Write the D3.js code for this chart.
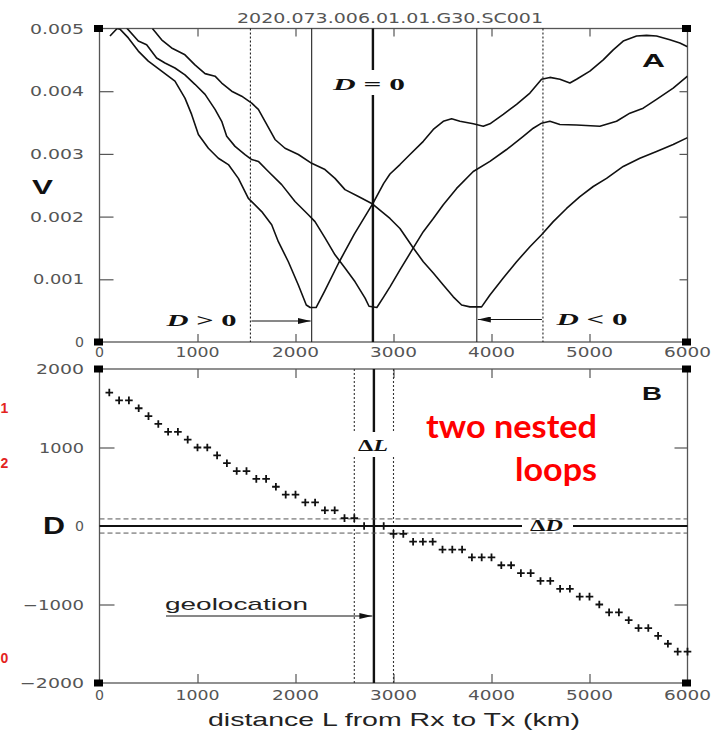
<!DOCTYPE html>
<html><head><meta charset="utf-8">
<script src="https://cdn.jsdelivr.net/npm/d3@7"></script>
<style>body{margin:0;background:#fff}</style>
</head><body><svg id="c" width="711" height="732"></svg>
<script>
const title = "2020.073.006.01.01.G30.SC001";
const xTicks = [0,1000,2000,3000,4000,5000,6000];
const vTicks = [0,0.001,0.002,0.003,0.004,0.005];
const vTickLabels = ["0","0.001","0.002","0.003","0.004","0.005"];
const dTicks = [-2000,-1000,0,1000,2000];
const dTickLabels = ["\u22122000","\u22121000","0","1000","2000"];

// Panel A: three received-signal curves [L km, V]
const curve1 = [[107,0.00488],[180,0.00500],[209,0.00499],[294,0.00485],[396,0.00464],[498,0.00448],[634,0.00432],[770,0.00416],[872,0.00389],[940,0.00363],[1009,0.00331],[1111,0.00309],[1213,0.00293],[1315,0.00283],[1417,0.00261],[1519,0.00229],[1655,0.00208],[1757,0.00187],[1825,0.00160],[1927,0.00128],[2029,0.00091],[2110,0.00059],[2150,0.00055],[2210,0.00055],[2300,0.00082],[2440,0.00126],[2600,0.00172],[2790,0.00221],[2900,0.00253],[2964,0.00268],[3066,0.00283],[3168,0.00299],[3304,0.00320],[3406,0.00339],[3508,0.00352],[3593,0.00356],[3678,0.00352],[3814,0.00348],[3916,0.00344],[3984,0.00348],[4120,0.00363],[4256,0.00379],[4392,0.00397],[4511,0.00419],[4596,0.00422],[4698,0.00419],[4800,0.00413],[4868,0.00419],[5004,0.00432],[5140,0.00450],[5242,0.00466],[5344,0.00480],[5480,0.00488],[5582,0.00489],[5684,0.00488],[5820,0.00482],[5922,0.00477],[6000,0.00471]];
const curve2 = [[277,0.00501],[396,0.00480],[481,0.00474],[583,0.00453],[668,0.00445],[770,0.00437],[872,0.00426],[974,0.00411],[1077,0.00395],[1179,0.00371],[1247,0.00352],[1298,0.00328],[1383,0.00312],[1485,0.00299],[1553,0.00291],[1621,0.00288],[1723,0.00272],[1859,0.00251],[1995,0.00224],[2131,0.00203],[2199,0.00192],[2301,0.00166],[2403,0.00139],[2505,0.00118],[2608,0.00096],[2710,0.00070],[2750,0.00057],[2830,0.00055],[2900,0.00072],[2964,0.00088],[3066,0.00115],[3202,0.00150],[3304,0.00176],[3406,0.00197],[3508,0.00219],[3644,0.00245],[3814,0.00272],[3984,0.00288],[4154,0.00307],[4324,0.00328],[4426,0.00341],[4511,0.00349],[4596,0.00352],[4698,0.00347],[4868,0.00346],[5106,0.00344],[5276,0.00352],[5412,0.00365],[5548,0.00373],[5684,0.00387],[5854,0.00405],[6000,0.00424]];
const curve3 = [[540,0.00500],[634,0.00482],[736,0.00469],[872,0.00458],[974,0.00442],[1077,0.00428],[1179,0.00424],[1247,0.00413],[1349,0.00400],[1451,0.00392],[1553,0.00381],[1621,0.00371],[1689,0.00352],[1791,0.00323],[1893,0.00309],[2029,0.00299],[2165,0.00285],[2301,0.00275],[2403,0.00261],[2505,0.00243],[2642,0.00232],[2778,0.00221],[2880,0.00208],[2964,0.00197],[3066,0.00181],[3202,0.00150],[3304,0.00128],[3406,0.00110],[3508,0.00091],[3610,0.00072],[3695,0.00059],[3780,0.00056],[3899,0.00056],[3984,0.00075],[4120,0.00102],[4256,0.00128],[4392,0.00152],[4511,0.00171],[4630,0.00192],[4766,0.00213],[4902,0.00232],[5038,0.00248],[5174,0.00261],[5344,0.00280],[5514,0.00293],[5684,0.00304],[5854,0.00315],[6000,0.00326]];

// Panel B: D versus L
const distL = [100,200,300,400,500,600,700,800,900,1000,1100,1200,1300,1400,1500,1600,1700,1800,1900,2000,2100,2200,2300,2400,2500,2600,2700,2800,2900,3000,3100,3200,3300,3400,3500,3600,3700,3800,3900,4000,4100,4200,4300,4400,4500,4600,4700,4800,4900,5000,5100,5200,5300,5400,5500,5600,5700,5800,5900,6000];
const distD = [1700,1600,1600,1500,1400,1300,1200,1200,1100,1000,1000,900,800,700,700,600,600,500,400,400,300,300,200,200,100,100,0,0,0,-100,-100,-200,-200,-200,-300,-300,-300,-400,-400,-400,-500,-500,-600,-600,-700,-700,-800,-800,-900,-900,-1000,-1100,-1100,-1200,-1300,-1300,-1400,-1500,-1600,-1600];

// reference lines
const dottedA = [1540, 4525];
const thinA = [2165, 3850];
const geoL = 2800;
const dottedB = [2600, 3000];
const bandD = [-90, 90];

const svg = d3.select("#c");
const x = d3.scaleLinear([0,6000],[99.5,687.5]);
const yA = d3.scaleLinear([0,0.005],[342,28.5]);
const yB = d3.scaleLinear([-2000,2000],[683,369]);
const X0 = x(0), X1 = x(6000);
const tickFont = "DejaVu Sans, sans-serif";
const grey = "#555";

const defs = svg.append("defs");
defs.append("marker").attr("id","arr").attr("viewBox","0 0 13 6").attr("refX",13).attr("refY",3)
  .attr("markerWidth",13).attr("markerHeight",6).attr("markerUnits","userSpaceOnUse").attr("orient","auto")
  .append("path").attr("d","M0,0L13,3L0,6Z").attr("fill","#111");

function labelWidth(s){ if(s.length===1) return 9; let w=0; for(const c of s) w += c==='1'?9:(c==='.'?6:(c==='\u2212'?16:12)); return w; }

function ticks(gen, tx, ty){
  svg.append("g").attr("transform",`translate(${tx},${ty})`).call(gen).call(g=>{
    g.select(".domain").remove(); g.selectAll("text").remove();
    g.selectAll("line").attr("stroke",grey).attr("stroke-width",1.2);
  });
}
function frame(yt, yb){
  svg.append("rect").attr("x",X0).attr("y",yt).attr("width",X1-X0).attr("height",yb-yt)
    .attr("fill","none").attr("stroke",grey).attr("stroke-width",1.3);
}
function corners(yt, yb){
  [[X0,yt],[X0,yb],[X1,yt],[X1,yb]].forEach(([cx,cy])=>{
    svg.append("rect").attr("x",cx-5.5).attr("y",cy-3.5).attr("width",9).attr("height",7).attr("fill","#000");
  });
}
function xLabels(baseY){
  svg.append("g").selectAll("text").data(xTicks).join("text")
    .attr("x",d=>x(d)).attr("y",baseY).attr("text-anchor","middle")
    .attr("font-family",tickFont).attr("font-size",14).attr("fill",grey)
    .attr("textLength",d=>labelWidth(String(d))-(String(d).length>1?1:0)).attr("lengthAdjust","spacingAndGlyphs")
    .text(d=>String(d));
}
function yLabels(vals, labels, scale){
  svg.append("g").selectAll("text").data(vals).join("text")
    .attr("x",84).attr("y",d=>scale(d)+5).attr("text-anchor","end")
    .attr("font-family",tickFont).attr("font-size",14).attr("fill",grey)
    .attr("textLength",(d,i)=>labelWidth(labels[i])).attr("lengthAdjust","spacingAndGlyphs")
    .text((d,i)=>labels[i]);
}
function vline(L, y0, y1, w, color, dash){
  const l = svg.append("line").attr("x1",x(L)).attr("x2",x(L)).attr("y1",y0).attr("y2",y1)
    .attr("stroke",color).attr("stroke-width",w);
  if(dash) l.attr("stroke-dasharray",dash);
  return l;
}
function mathText(xp, yp, len, parts, size){
  const t = svg.append("text").attr("x",xp).attr("y",yp).attr("font-family","Liberation Serif, serif")
    .attr("font-size",size||17).attr("font-weight","bold").attr("fill","#111")
    .attr("textLength",len).attr("lengthAdjust","spacingAndGlyphs");
  parts.forEach(([s,it])=>t.append("tspan").attr("font-style",it?"italic":"normal").text(s));
  return t;
}

// ---------- title ----------
svg.append("text").attr("x",390).attr("y",22.5).attr("text-anchor","middle")
  .attr("font-family",tickFont).attr("font-size",13.5).attr("fill",grey)
  .attr("textLength",306).attr("lengthAdjust","spacingAndGlyphs").text(title);

// ---------- Panel A ----------
const yAt = yA(0.005), yAb = yA(0);
frame(yAt, yAb);
const innerV = [0.001,0.002,0.003,0.004];
const innerX = [1000,2000,3000,4000,5000];
ticks(d3.axisBottom(x).tickValues(innerX).tickSize(-8).tickFormat(""), 0, yAb);
ticks(d3.axisTop(x).tickValues(innerX).tickSize(-8).tickFormat(""), 0, yAt);
ticks(d3.axisLeft(yA).tickValues(innerV).tickSize(-14).tickFormat(""), X0, 0);
ticks(d3.axisRight(yA).tickValues(innerV).tickSize(-8).tickFormat(""), X1, 0);
xLabels(357);
yLabels(vTicks, vTickLabels, yA);

dottedA.forEach(L=>vline(L, yAt, yAb, 1.1, "#222", "2,2"));
thinA.forEach(L=>vline(L, yAt, yAb, 1.1, "#222"));
vline(2790, yAt, yAb, 2.4, "#111");
svg.append("rect").attr("x",x(2790)-5).attr("y",70).attr("width",10).attr("height",25).attr("fill","#fff");

const lineA = d3.line().x(d=>x(d[0])).y(d=>yA(d[1]));
const clipA = defs.append("clipPath").attr("id","clipA").append("rect")
  .attr("x",X0).attr("y",yAt).attr("width",X1-X0).attr("height",yAb-yAt);
svg.append("g").attr("clip-path","url(#clipA)").selectAll("path").data([curve1,curve2,curve3]).join("path")
  .attr("d",lineA).attr("fill","none").attr("stroke","#111").attr("stroke-width",1.6).attr("stroke-linejoin","round");

mathText(333, 90, 72, [["D",true],[" = 0",false]]);
mathText(166.5, 326, 70, [["D",true],[" > 0",false]]);
mathText(556.5, 325, 71, [["D",true],[" < 0",false]]);
svg.append("line").attr("x1",x(dottedA[0])+1).attr("x2",x(thinA[0])-1).attr("y1",321).attr("y2",321)
  .attr("stroke","#111").attr("stroke-width",1).attr("marker-end","url(#arr)");
svg.append("line").attr("x1",x(dottedA[1])-1).attr("x2",x(thinA[1])+1).attr("y1",319.5).attr("y2",319.5)
  .attr("stroke","#111").attr("stroke-width",1).attr("marker-end","url(#arr)");

svg.append("text").attr("x",642).attr("y",67).attr("font-family","Liberation Sans, Arial, sans-serif")
  .attr("font-size",18.5).attr("font-weight","bold").attr("fill","#111")
  .attr("textLength",23).attr("lengthAdjust","spacingAndGlyphs").text("A");
svg.append("text").attr("x",32).attr("y",194).attr("font-family","Liberation Sans, Arial, sans-serif")
  .attr("font-size",20.5).attr("font-weight","bold").attr("fill","#111")
  .attr("textLength",21).attr("lengthAdjust","spacingAndGlyphs").text("V");
corners(yAt, yAb);

// ---------- Panel B ----------
const yBt = yB(2000), yBb = yB(-2000);
frame(yBt, yBb);
ticks(d3.axisBottom(x).tickValues(innerX).tickSize(-9).tickFormat(""), 0, yBb);
ticks(d3.axisTop(x).tickValues(innerX).tickSize(-9).tickFormat(""), 0, yBt);
ticks(d3.axisLeft(yB).tickValues([-1000,1000]).tickSize(-15).tickFormat(""), X0, 0);
ticks(d3.axisRight(yB).tickValues([-1000,1000]).tickSize(-13).tickFormat(""), X1, 0);
xLabels(700);
yLabels(dTicks, dTickLabels, yB);

dottedB.forEach(L=>vline(L, yBt, yBb, 1.1, "#333", "2,2"));
vline(geoL, yBt, yBb, 2.4, "#111");
svg.append("line").attr("x1",X0).attr("x2",X1).attr("y1",yB(0)).attr("y2",yB(0))
  .attr("stroke","#111").attr("stroke-width",2);
// gaps for labels
svg.append("rect").attr("x",x(dottedB[0])-3).attr("y",432).attr("width",x(dottedB[1])-x(dottedB[0])+6).attr("height",25).attr("fill","#fff");
svg.append("rect").attr("x",522).attr("y",yB(0)-3).attr("width",51).attr("height",6).attr("fill","#fff");
bandD.forEach(D=>svg.append("line").attr("x1",X0).attr("x2",X1).attr("y1",yB(D)).attr("y2",yB(D))
  .attr("stroke","#555").attr("stroke-width",1).attr("stroke-dasharray","5,3"));

svg.append("g").selectAll("path").data(distL).join("path")
  .attr("transform",(d,i)=>`translate(${x(d)},${yB(distD[i])})`)
  .attr("d","M-3.8,0H3.8M0,-3.8V3.8").attr("stroke","#111").attr("stroke-width",1.8).attr("fill","none");

mathText(358, 451, 30, [["\u0394",false],["L",true]]);
mathText(530, 531, 33, [["\u0394",false],["D",true]]);

svg.append("text").attr("x",165).attr("y",609.5).attr("font-family","Liberation Sans, Arial, sans-serif")
  .attr("font-size",17).attr("fill","#222").attr("textLength",143).attr("lengthAdjust","spacingAndGlyphs").text("geolocation");
svg.append("line").attr("x1",166).attr("x2",x(geoL)-1.5).attr("y1",616).attr("y2",616)
  .attr("stroke","#111").attr("stroke-width",1).attr("marker-end","url(#arr)");

svg.append("text").attr("x",642).attr("y",400).attr("font-family","Liberation Sans, Arial, sans-serif")
  .attr("font-size",18.5).attr("font-weight","bold").attr("fill","#111")
  .attr("textLength",20).attr("lengthAdjust","spacingAndGlyphs").text("B");
svg.append("text").attr("x",43).attr("y",533.5).attr("font-family","Liberation Sans, Arial, sans-serif")
  .attr("font-size",23).attr("font-weight","bold").attr("fill","#111")
  .attr("textLength",22).attr("lengthAdjust","spacingAndGlyphs").text("D");
corners(yBt, yBb);

svg.append("text").attr("x",208).attr("y",726).attr("font-family","Liberation Sans, Arial, sans-serif")
  .attr("font-size",18.5).attr("fill","#222").attr("textLength",372).attr("lengthAdjust","spacingAndGlyphs")
  .text("distance L from Rx to Tx (km)");

// red annotations
const red = "#f00";
svg.append("text").attr("x",597).attr("y",437.5).attr("text-anchor","end").attr("font-family","Lato, Open Sans, sans-serif")
  .attr("font-size",33).attr("font-weight","bold").attr("fill",red)
  .attr("textLength",171).attr("lengthAdjust","spacingAndGlyphs").text("two nested");
svg.append("text").attr("x",597).attr("y",481).attr("text-anchor","end").attr("font-family","Lato, Open Sans, sans-serif")
  .attr("font-size",33).attr("font-weight","bold").attr("fill",red)
  .attr("textLength",82).attr("lengthAdjust","spacingAndGlyphs").text("loops");
[["1",413],["2",468],["0",663]].forEach(([s,yy])=>{
  svg.append("text").attr("x",0.5).attr("y",yy).attr("font-family","Liberation Sans, Arial, sans-serif")
    .attr("font-size",14).attr("font-weight","bold").attr("fill","#e3231e").text(s);
});
</script></body></html>
